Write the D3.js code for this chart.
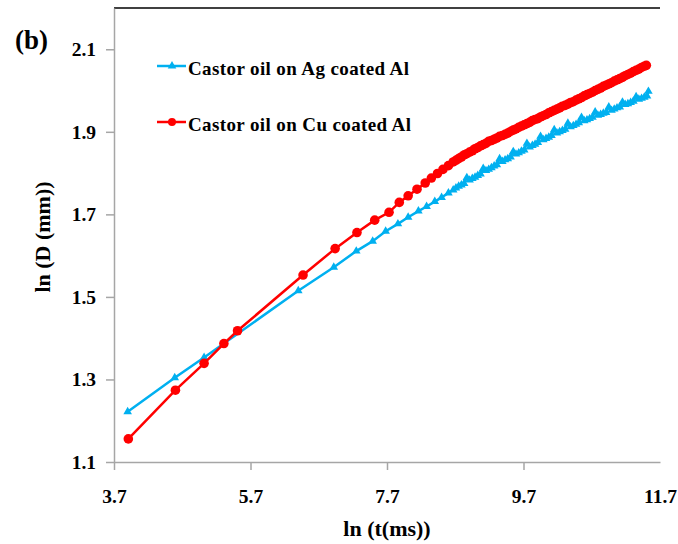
<!DOCTYPE html>
<html>
<head>
<meta charset="utf-8">
<script src="https://cdn.jsdelivr.net/npm/d3@7"></script>
<style>
  body { margin: 0; background: #fff; }
  text { font-family: "Liberation Serif", "Times New Roman", serif; font-weight: bold; }
</style>
</head>
<body>
<div id="chart"></div>
<script>
// series: ln(t) and ln(D)
const agX = [3.90, 4.59, 5.02, 6.40, 6.92, 7.25, 7.49, 7.68, 7.86, 8.01, 8.16, 8.28, 8.40, 8.50, 8.60, 8.67,
  8.71, 8.75, 8.79, 8.83, 8.87, 8.91, 8.95, 8.99, 9.03, 9.07, 9.11, 9.15, 9.19, 9.23, 9.27, 9.31, 9.35, 9.39,
  9.43, 9.47, 9.51, 9.55, 9.59, 9.63, 9.67, 9.71, 9.75, 9.79, 9.83, 9.87, 9.91, 9.95, 9.99, 10.03, 10.07,
  10.11, 10.15, 10.19, 10.23, 10.27, 10.31, 10.35, 10.39, 10.43, 10.47, 10.51, 10.55, 10.59, 10.63, 10.67,
  10.71, 10.75, 10.79, 10.83, 10.87, 10.91, 10.95, 10.99, 11.03, 11.07, 11.11, 11.15, 11.19, 11.23, 11.27,
  11.31, 11.35, 11.39, 11.43, 11.47, 11.51, 11.53];
const agY = [1.222, 1.304, 1.353, 1.515, 1.572, 1.611, 1.635, 1.659, 1.677, 1.693, 1.708, 1.719, 1.731, 1.741, 1.752, 1.759,
  1.764, 1.768, 1.771, 1.775, 1.789, 1.783, 1.787, 1.790, 1.794, 1.798, 1.811, 1.806, 1.809, 1.813, 1.817, 1.820, 1.835, 1.828,
  1.832, 1.835, 1.839, 1.852, 1.846, 1.849, 1.853, 1.856, 1.872, 1.863, 1.867, 1.870, 1.874, 1.889, 1.881, 1.884, 1.887,
  1.891, 1.905, 1.897, 1.900, 1.903, 1.906, 1.921, 1.912, 1.915, 1.918, 1.922, 1.935, 1.927, 1.929, 1.932,
  1.935, 1.948, 1.940, 1.942, 1.945, 1.947, 1.960, 1.952, 1.955, 1.958, 1.960, 1.972, 1.966, 1.968, 1.971,
  1.974, 1.985, 1.979, 1.981, 1.984, 1.987, 1.998];

const cuX = [3.91, 4.60, 5.02, 5.31, 5.51, 6.47, 6.94, 7.26, 7.52, 7.73, 7.88, 8.01, 8.14, 8.26, 8.35, 8.44,
  8.52, 8.60, 8.67, 8.71, 8.75, 8.79, 8.83, 8.87, 8.91, 8.95, 8.99, 9.03, 9.07, 9.11, 9.15, 9.19, 9.23, 9.27,
  9.31, 9.35, 9.39, 9.43, 9.47, 9.51, 9.55, 9.59, 9.63, 9.67, 9.71, 9.75, 9.79, 9.83, 9.87, 9.91, 9.95, 9.99,
  10.03, 10.07, 10.11, 10.15, 10.19, 10.23, 10.27, 10.31, 10.35, 10.39, 10.43, 10.47, 10.51, 10.55, 10.59,
  10.63, 10.67, 10.71, 10.75, 10.79, 10.83, 10.87, 10.91, 10.95, 10.99, 11.03, 11.07, 11.11, 11.15, 11.19,
  11.23, 11.27, 11.31, 11.35, 11.39, 11.43, 11.47, 11.50];
const cuY = [1.156, 1.274, 1.339, 1.387, 1.418, 1.553, 1.617, 1.656, 1.686, 1.705, 1.729, 1.745, 1.761, 1.776, 1.788, 1.799,
  1.809, 1.818, 1.827, 1.831, 1.835, 1.839, 1.844, 1.847, 1.851, 1.854, 1.859, 1.862, 1.866, 1.869, 1.872, 1.877, 1.879, 1.882,
  1.885, 1.889, 1.891, 1.894, 1.897, 1.901, 1.904, 1.907, 1.911, 1.914, 1.917, 1.920, 1.923, 1.927, 1.930, 1.932, 1.936, 1.939,
  1.942, 1.946, 1.949, 1.952, 1.955, 1.958, 1.962, 1.964, 1.967, 1.971, 1.973, 1.977, 1.980, 1.983, 1.987,
  1.990, 1.993, 1.996, 2.000, 2.003, 2.006, 2.010, 2.013, 2.016, 2.019, 2.023, 2.026, 2.029, 2.032, 2.036,
  2.039, 2.042, 2.046, 2.049, 2.052, 2.056, 2.059, 2.061];

const seriesNames = ["Castor oil on Ag coated Al", "Castor oil on Cu coated Al"];
const xTicks = [3.7, 5.7, 7.7, 9.7, 11.7];
const yTicks = [1.1, 1.3, 1.5, 1.7, 1.9, 2.1];

const W = 678, H = 544;
const svg = d3.select("#chart").append("svg")
    .attr("width", W)
    .attr("height", H);

const x = d3.scaleLinear().domain([3.7, 11.7]).range([114, 660]);
const y = d3.scaleLinear().domain([1.1, 2.2]).range([462, 8]);

// top frame line
svg.append("line")
    .attr("x1", x(3.7)).attr("x2", x(11.7))
    .attr("y1", y(2.2)).attr("y2", y(2.2))
    .attr("stroke", "#000").attr("stroke-width", 1.5);

// x axis
const gx = svg.append("g")
    .attr("transform", "translate(0," + y(1.1) + ")")
    .call(d3.axisBottom(x).tickValues(xTicks).tickSize(8).tickSizeOuter(0).tickPadding(19)
        .tickFormat(d3.format(".1f")));
gx.select(".domain").attr("stroke", "#a6a6a6").attr("stroke-width", 1.5);
gx.selectAll(".tick line").attr("stroke", "#a6a6a6").attr("stroke-width", 1.5)
    .filter(d => d === 11.7).remove();
gx.selectAll(".tick text").attr("font-size", 19.5).attr("fill", "#000")
    .attr("font-family", "Liberation Serif").attr("font-weight", "bold");

// y axis
const gy = svg.append("g")
    .attr("transform", "translate(" + x(3.7) + ",0)")
    .call(d3.axisLeft(y).tickValues(yTicks).tickSize(8).tickSizeOuter(0).tickPadding(10)
        .tickFormat(d3.format(".1f")));
gy.select(".domain").attr("stroke", "#a6a6a6").attr("stroke-width", 1.5);
gy.selectAll(".tick line").attr("stroke", "#a6a6a6").attr("stroke-width", 1.5);
gy.selectAll(".tick text").attr("font-size", 19.5).attr("fill", "#000")
    .attr("font-family", "Liberation Serif").attr("font-weight", "bold");

// axis titles
svg.append("text")
    .attr("x", 387).attr("y", 536)
    .attr("text-anchor", "middle")
    .attr("font-size", 22)
    .text("ln (t(ms))");

svg.append("text")
    .attr("transform", "translate(50,237) rotate(-90)")
    .attr("text-anchor", "middle")
    .attr("font-size", 22)
    .text("ln (D (mm))");

svg.append("text")
    .attr("x", 15).attr("y", 49)
    .attr("font-size", 27)
    .text("(b)");

const line = d3.line().x(d => x(d[0])).y(d => y(d[1]));
const agData = d3.zip(agX, agY);
const cuData = d3.zip(cuX, cuY);
const blue = "#00b0f0", red = "#ff0000";
const tri = d3.symbol().type(d3.symbolTriangle).size(32);

svg.append("path").datum(agData)
    .attr("fill", "none").attr("stroke", blue).attr("stroke-width", 2.5)
    .attr("d", line);
svg.append("g").selectAll("path")
    .data(agData)
    .join("path")
    .attr("transform", d => `translate(${x(d[0])},${y(d[1])})`)
    .attr("d", tri)
    .attr("fill", blue);

svg.append("path").datum(cuData)
    .attr("fill", "none").attr("stroke", red).attr("stroke-width", 2.5)
    .attr("d", line);
svg.append("g").selectAll("circle")
    .data(cuData)
    .join("circle")
    .attr("cx", d => x(d[0]))
    .attr("cy", d => y(d[1]))
    .attr("r", 4.8)
    .attr("fill", red);

// legend
const legend = svg.append("g");
const lg = legend.selectAll("g")
    .data(seriesNames)
    .join("g")
    .attr("transform", (d, i) => `translate(157,${66 + i * 56})`);
lg.append("line")
    .attr("x1", 0).attr("x2", 29)
    .attr("stroke", (d, i) => i === 0 ? blue : red)
    .attr("stroke-width", 2.5);
lg.append("path")
    .attr("transform", "translate(15,0)")
    .attr("d", (d, i) => i === 0 ? tri() : d3.symbol().type(d3.symbolCircle).size(50)())
    .attr("fill", (d, i) => i === 0 ? blue : red);
lg.append("text")
    .attr("x", 31).attr("y", 9)
    .attr("font-size", 19)
    .attr("textLength", (d, i) => i === 0 ? 221 : 223)
    .text(d => d);
</script>
</body>
</html>
